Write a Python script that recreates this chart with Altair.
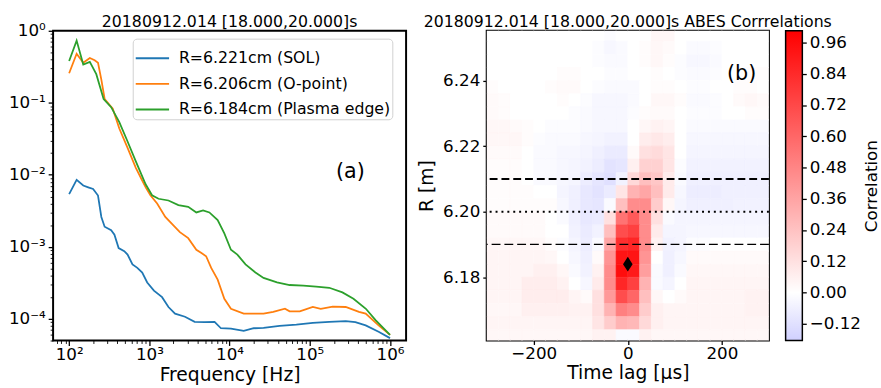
import altair as alt
import pandas as pd

FONT = "DejaVu Sans"

# ---------------- panel (a): spectra ----------------
series_names = ["R=6.221cm (SOL)", "R=6.206cm (O-point)", "R=6.184cm (Plasma edge)"]
series_colors = ["#1f77b4", "#ff7f0e", "#2ca02c"]

freq_sol = [100, 124, 150, 173, 199, 229, 252, 277, 334, 367, 414, 487, 535, 616, 708, 815, 940,
            1140, 1440, 1730, 2090, 2780, 3670, 4900, 6500, 7800, 10400, 15000, 20000, 26500,
            42000, 68000, 109000, 175000, 280000, 370000, 497000, 720000, 1000000]
psd_sol = [5.4e-3, 8.5e-3, 7.1e-3, 6.7e-3, 6.35e-3, 5.15e-3, 2.6e-3, 1.9e-3, 1.7e-3, 1.47e-3,
           9.6e-4, 8.7e-4, 7.8e-4, 5.7e-4, 5.1e-4, 4.4e-4, 3.2e-4, 2.46e-4, 2.0e-4, 1.46e-4,
           1.18e-4, 1.07e-4, 9.1e-5, 9.0e-5, 9.1e-5, 7.4e-5, 7.3e-5, 6.8e-5, 7.4e-5, 7.5e-5,
           8.0e-5, 8.3e-5, 8.8e-5, 9.1e-5, 9.3e-5, 9.0e-5, 8.1e-5, 6.6e-5, 5.4e-5]

freq_op = [100, 124, 150, 181, 208, 229, 252, 277, 350, 422, 535, 676, 815, 900, 1030, 1250, 1580,
           1900, 2400, 3050, 3850, 4460, 5100, 5900, 7100, 8600, 10400, 15000, 26500, 35000,
           49000, 56000, 75000, 109000, 137000, 193000, 280000, 410000, 497000, 720000, 1000000]
psd_op = [0.257, 0.48, 0.36, 0.42, 0.39, 0.36, 0.21, 0.113, 0.083, 0.044,
          0.0236, 0.0126, 8.3e-3, 6.7e-3, 5.2e-3, 4.0e-3, 2.6e-3, 2.1e-3, 1.6e-3, 1.32e-3,
          9.1e-4, 8.2e-4, 7.4e-4, 5.1e-4, 3.5e-4, 1.9e-4, 1.38e-4, 1.18e-4, 1.18e-4, 1.25e-4,
          1.38e-4, 1.27e-4, 1.27e-4, 1.46e-4, 1.38e-4, 1.48e-4, 1.46e-4, 1.25e-4, 1.18e-4, 8.1e-5,
          6.0e-5]

freq_edge = [100, 124, 150, 181, 218, 269, 334, 422, 535, 676, 898, 1080, 1300, 1730, 2300, 3050,
             3850, 4670, 5600, 7100, 8600, 10400, 12500, 15800, 21000, 26500, 39000, 56000, 83000,
             120000, 175000, 255000, 350000, 500000, 660000, 1000000]
psd_edge = [0.38, 0.73, 0.34, 0.37, 0.25, 0.113, 0.087, 0.054, 0.029, 0.0155,
            7.4e-3, 5.2e-3, 4.65e-3, 4.4e-3, 3.8e-3, 3.6e-3, 3.0e-3, 3.2e-3, 3.0e-3, 2.35e-3,
            1.54e-3, 9.1e-4, 7.8e-4, 5.7e-4, 4.4e-4, 3.7e-4, 3.2e-4, 2.95e-4, 2.9e-4, 2.8e-4,
            2.7e-4, 2.33e-4, 1.9e-4, 1.38e-4, 9.6e-5, 6.0e-5]

freq_domain = [63.1, 1.585e6]
psd_domain = [5e-5, 1.0]
x_major = [1e2, 1e3, 1e4, 1e5, 1e6]
y_major = [1e-4, 1e-3, 1e-2, 1e-1, 1.0]

# ---------------- panel (b): correlation map ----------------
lags_us = [-287.5, -262.5, -237.5, -212.5, -187.5, -162.5, -137.5, -112.5, -87.5, -62.5, -37.5,
           -12.5, 12.5, 37.5, 62.5, 87.5, 112.5, 137.5, 162.5, 187.5, 212.5, 237.5, 262.5, 287.5]
radii_m = [6.254, 6.250, 6.246, 6.242, 6.238, 6.234, 6.230, 6.226, 6.222, 6.218, 6.214, 6.210,
           6.206, 6.202, 6.198, 6.194, 6.190, 6.186, 6.182, 6.178, 6.174, 6.170, 6.166, 6.162]
# correlation x 100, rows top (6.254) -> bottom (6.162), columns -287.5 .. 287.5 us
corr_pct = [
    [0, 0, 0, 0, 0, 0, 0, 0, 0, 0, -1, 0, 0, 0, 3, 3, 0, 0, 0, 0, 0, 0, 0, 0],
    [0, 0, 0, 0, 0, 0, 0, 0, 0, -1, -3, -2, 0, 1, 3, 2, 0, -2, -2, -1, 0, 0, 0, 0],
    [0, 0, 0, 0, 0, 0, 0, 0, 0, -1, -2, -2, 0, 1, 3, 1, -1, -3, -3, -2, 0, 0, 0, 0],
    [0, 0, 0, 0, 0, 0, 1, 1, 0, 0, -1, -1, 0, 0, 1, 0, -1, -2, -2, -1, 0, 0, 1, 1],
    [1, 0, 0, 0, 0, 1, 2, 2, 0, -1, -2, -2, -2, 0, 1, 1, 0, -1, -1, 0, 0, 1, 1, 0],
    [2, 1, 0, 0, 0, 0, 1, 0, -1, -3, -3, -3, -2, 0, 3, 3, 1, -2, -2, -1, 0, 2, 3, 2],
    [2, 1, 0, 0, 0, 0, 0, -1, -2, -3, -3, -3, -1, 1, 2, 2, 0, -1, -1, -1, 0, 0, 1, 1],
    [3, 3, 2, 1, 0, -1, -1, -1, -2, -3, -3, -3, 0, 3, 5, 4, 0, -2, -2, -2, -2, -2, -2, -2],
    [3, 3, 3, 1, -1, -2, -2, -2, -3, -4, -5, -5, 0, 7, 9, 7, 0, -3, -3, -3, -3, -3, -3, -3],
    [2, 2, 2, 0, -2, -2, -3, -3, -4, -6, -8, -8, 2, 12, 14, 10, 0, -4, -4, -4, -4, -4, -4, -4],
    [1, 1, 1, 0, -2, -2, -3, -4, -5, -7, -11, -10, 6, 18, 18, 10, -1, -5, -5, -5, -5, -5, -5, -5],
    [1, 1, 1, 0, -2, -2, -3, -4, -7, -10, -12, -5, 15, 25, 22, 8, -2, -6, -6, -6, -6, -6, -6, -6],
    [1, 1, 1, 1, 0, 0, -4, -6, -9, -11, -8, 10, 30, 35, 25, 8, -3, -7, -7, -7, -6, -6, -6, -6],
    [1, 1, 1, 1, 1, 1, -3, -6, -9, -10, -2, 25, 45, 45, 20, 3, -4, -6, -6, -6, -6, -5, -5, -5],
    [2, 2, 2, 2, 2, 0, -2, -6, -9, -8, 12, 55, 65, 45, 12, -2, -4, -4, -4, -4, -4, -4, -4, -4],
    [2, 2, 2, 2, 2, 0, 0, -5, -8, -5, 25, 70, 75, 45, 8, -4, -4, -3, -3, -3, -3, -3, -3, -3],
    [3, 3, 3, 3, 3, 1, -1, -4, -7, -2, 35, 82, 85, 45, 5, -5, -4, -1, -1, 0, 0, 0, 0, 0],
    [4, 4, 4, 4, 4, 3, 0, -3, -6, 2, 42, 92, 92, 42, 0, -6, -3, 2, 2, 2, 2, 2, 2, 2],
    [4, 4, 4, 4, 6, 6, 3, -2, -5, 5, 45, 95, 90, 38, -2, -6, -2, 3, 3, 3, 3, 3, 3, 3],
    [4, 4, 4, 7, 7, 7, 5, 0, -3, 8, 45, 85, 75, 30, -2, -4, 0, 4, 4, 4, 4, 4, 4, 4],
    [4, 4, 4, 7, 7, 7, 7, 4, 2, 12, 40, 70, 60, 25, 3, 0, 2, 4, 4, 4, 4, 4, 5, 5],
    [3, 3, 3, 6, 6, 6, 6, 5, 5, 12, 30, 50, 45, 20, 6, 4, 4, 4, 4, 4, 4, 4, 5, 5],
    [4, 4, 4, 4, 4, 4, 4, 4, 4, 10, 20, 30, 28, 15, 6, 4, 4, 4, 4, 4, 4, 4, 4, 4],
    [3, 3, 3, 3, 3, 3, 3, 3, 3, 5, 5, -2, -2, 5, 3, 3, 3, 3, 3, 3, 3, 3, 3, 3],
]
lag_half = 12.5
r_half = 0.002
lag_domain = [-300, 300]
r_domain = [6.1607, 6.2552]
ref_sol = [6.21]
ref_opoint = [6.20]
ref_edge = [6.19]
peak_lag = [0.0]
peak_r = [6.184]
cbar_range = [-0.184, 1.005]
cbar_ticks = [-0.12, 0.0, 0.12, 0.24, 0.36, 0.48, 0.60, 0.72, 0.84, 0.96]

# ---------------- build tables ----------------
rows = []
for name, fr, ps in zip(series_names, [freq_sol, freq_op, freq_edge], [psd_sol, psd_op, psd_edge]):
    for f, p in zip(fr, ps):
        rows.append({"series": name, "f": f, "psd": p})
df_lines = pd.DataFrame(rows)

heat = []
for r, row in zip(radii_m, corr_pct):
    for t, c in zip(lags_us, row):
        heat.append({"t": t - lag_half, "t1": t + lag_half, "r": r - r_half, "r1": r + r_half, "c": c / 100.0})
df_heat = pd.DataFrame(heat)

SUP = {-4: "⁻⁴", -3: "⁻³", -2: "⁻²", -1: "⁻¹", 0: "⁰", 1: "¹", 2: "²", 3: "³", 4: "⁴", 5: "⁵", 6: "⁶"}
E = "round(log(datum.value)/LN10)"
MAJOR = f"abs(log(datum.value)/LN10 - {E}) < 0.001"


def label_expr(exps):
    expr = "''"
    for k in exps:
        expr = f"({E} == {k} ? '10{SUP[k]}' : {expr})"
    return f"{MAJOR} ? {expr} : ''"


def minor_ticks(lo, hi):
    out = []
    for k in range(-6, 8):
        for m in range(2, 10):
            val = m * 10.0 ** k
            if lo <= val <= hi:
                out.append(val)
    return out


tick_size = {"condition": {"test": MAJOR, "value": 5}, "value": 3}
tick_width = {"condition": {"test": MAJOR, "value": 1.3}, "value": 0.9}

xs_log = alt.Scale(type="log", domain=freq_domain, nice=False)
ys_log = alt.Scale(type="log", domain=psd_domain, nice=False)
ax_f = alt.Axis(values=x_major + minor_ticks(*freq_domain), labelExpr=label_expr([2, 3, 4, 5, 6]),
                tickSize=tick_size, tickWidth=tick_width, labelOverlap=False, labelFlush=False,
                title="Frequency [Hz]", titlePadding=4, labelPadding=1)
ax_p = alt.Axis(values=y_major + minor_ticks(*psd_domain), labelExpr=label_expr([-4, -3, -2, -1, 0]),
                tickSize=tick_size, tickWidth=tick_width, labelOverlap=False, labelFlush=False,
                title=None, labelPadding=3)

lines = alt.Chart(df_lines).mark_line(strokeWidth=1.8, clip=True).encode(
    x=alt.X("f:Q", scale=xs_log, axis=ax_f),
    y=alt.Y("psd:Q", scale=ys_log, axis=ax_p),
    color=alt.Color("series:N", sort=series_names,
                    scale=alt.Scale(domain=series_names, range=series_colors),
                    legend=alt.Legend(title=None, orient="none", legendX=81, legendY=8,
                                      symbolType="stroke", symbolSize=1150, symbolStrokeWidth=2,
                                      labelFontSize=16, labelFont=FONT, labelColor="black",
                                      rowPadding=-2, labelOffset=9, padding=2,
                                      strokeColor="#d0d0d0", fillColor="rgba(255,255,255,0.85)",
                                      cornerRadius=4, labelLimit=400)),
)

ann_a = alt.Chart(pd.DataFrame({"f": [3.2e5], "psd": [0.011], "label": ["(a)"]})).mark_text(
    fontSize=21, font=FONT, color="black").encode(
    x=alt.X("f:Q", scale=xs_log, axis=ax_f), y=alt.Y("psd:Q", scale=ys_log, axis=ax_p), text="label:N")

left = alt.layer(lines, ann_a).properties(
    width=359, height=315,
    title=alt.TitleParams("20180912.014 [18.000,20.000]s", fontSize=16, font=FONT,
                          fontWeight="normal", color="black", anchor="middle", offset=-8))

xs_lag = alt.Scale(domain=lag_domain, nice=False, zero=False)
ys_r = alt.Scale(domain=r_domain, nice=False, zero=False)
cs = alt.Scale(domain=[-1, 0, 1], range=["#0000ff", "#ffffff", "#ff0000"], interpolate="rgb")
ax_t = alt.Axis(values=[-200, 0, 200], title="Time lag [μs]", titlePadding=3, labelPadding=1,
                tickSize=4)
ax_r = alt.Axis(values=[6.18, 6.20, 6.22, 6.24], format=".2f", title="R [m]", titlePadding=6,
                labelPadding=3, tickSize=4)

heatmap = alt.Chart(df_heat).mark_rect(clip=True, strokeWidth=0.6).encode(
    x=alt.X("t:Q", scale=xs_lag, axis=ax_t),
    x2="t1:Q",
    y=alt.Y("r:Q", scale=ys_r, axis=ax_r),
    y2="r1:Q",
    color=alt.Color("c:Q", scale=cs, legend=None),
    stroke=alt.Stroke("c:Q", scale=cs, legend=None),
)


def hline(vals, width, dash):
    return alt.Chart(pd.DataFrame({"r": vals})).mark_rule(
        color="black", strokeWidth=width, strokeDash=dash).encode(
        y=alt.Y("r:Q", scale=ys_r, axis=ax_r))


rule_sol = hline(ref_sol, 2.0, [8, 4])
rule_op = hline(ref_opoint, 2.2, [2, 4])
rule_edge = hline(ref_edge, 1.3, [9, 4])

diamond = alt.Chart(pd.DataFrame({"t": peak_lag, "r": peak_r})).mark_point(
    shape="M0,-1L0.65,0L0,1L-0.65,0Z", size=225, filled=True, color="black", opacity=1).encode(
    x=alt.X("t:Q", scale=xs_lag, axis=ax_t), y=alt.Y("r:Q", scale=ys_r, axis=ax_r))

ann_b = alt.Chart(pd.DataFrame({"t": [242], "r": [6.242], "label": ["(b)"]})).mark_text(
    fontSize=21, font=FONT, color="black").encode(
    x=alt.X("t:Q", scale=xs_lag, axis=ax_t), y=alt.Y("r:Q", scale=ys_r, axis=ax_r), text="label:N")

map_layers = alt.layer(heatmap, rule_sol, rule_op, rule_edge, diamond, ann_b)

lo, hi = cbar_range
zero_off = (0 - lo) / (hi - lo)
v = 1 + lo
low_rgb = "#%02x%02x%02x" % (round(v * 255), round(v * 255), 255)
cbar = alt.Chart(pd.DataFrame({"lo": [lo], "hi": [hi]})).mark_rect(
    fill=alt.Gradient(gradient="linear", x1=0, y1=1, x2=0, y2=0,
                      stops=[alt.GradientStop(offset=0, color=low_rgb),
                             alt.GradientStop(offset=zero_off, color="#ffffff"),
                             alt.GradientStop(offset=1, color="#ff0000")]),
    stroke="black", strokeWidth=1.5).encode(
    x=alt.value(304), x2=alt.value(321),
    y=alt.Y("lo:Q", scale=alt.Scale(domain=cbar_range, nice=False, zero=False),
            axis=alt.Axis(orient="right", offset=34, values=cbar_ticks, format=".2f",
                          title="Correlation", titleAngle=270, titleBaseline="top",
                          titleFontSize=17, titlePadding=3, tickSize=4, labelPadding=3)),
    y2="hi:Q",
)

right = alt.layer(map_layers, cbar).resolve_scale(y="independent").properties(
    width=287, height=315,
    title=alt.TitleParams("20180912.014 [18.000,20.000]s ABES Corrrelations", fontSize=16, font=FONT,
                          fontWeight="normal", color="black", anchor="middle", offset=0))

chart = alt.hconcat(left, right, spacing=82, bounds="flush").properties(
    padding={"left": 7, "top": 10, "right": 0, "bottom": 0}
).configure(font=FONT).configure_view(stroke="black", strokeWidth=2).configure_axis(
    labelFont=FONT, titleFont=FONT, labelFontSize=17, titleFontSize=19, titleFontWeight="normal",
    labelColor="black", titleColor="black", tickColor="black", tickSize=5, tickWidth=1.3,
    domain=False, grid=False)

chart.save("out.html", embed_options={"renderer": "svg", "actions": False})
